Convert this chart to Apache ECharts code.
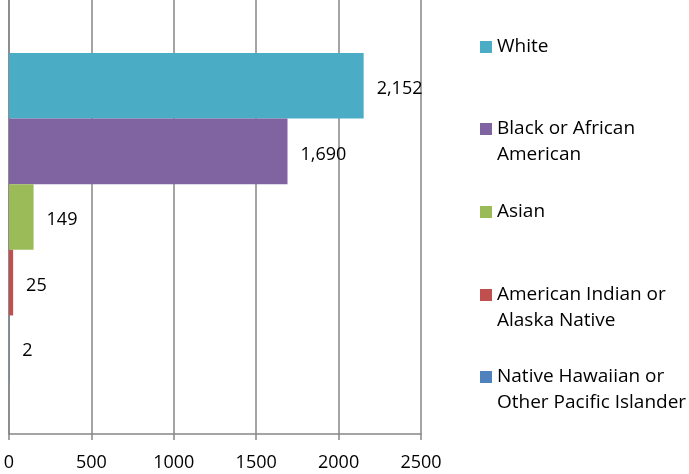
<!DOCTYPE html>
<html>
<head>
<meta charset="utf-8">
<script src="https://cdn.jsdelivr.net/npm/echarts@6/dist/echarts.min.js"></script>
<style>
  html, body { margin: 0; padding: 0; background: #fff; }
  #chart { width: 689px; height: 474px; }
</style>
</head>
<body>
<div id="chart"></div>
<script>
// 数据
const seriesNames = ['White', 'Black or African American', 'Asian', 'American Indian or Alaska Native', 'Native Hawaiian or Other Pacific Islander']
const legendLabels = ['White', 'Black or African\nAmerican', 'Asian', 'American Indian or\nAlaska Native', 'Native Hawaiian or\nOther Pacific Islander']
const seriesValues = [2152, 1690, 149, 25, 2]
const seriesColors = ['#4BACC6', '#8064A2', '#9BBB59', '#C0504D', '#4F81BD']
const xTicks = [0, 500, 1000, 1500, 2000, 2500]

const font = 'Open Sans'
const legendCenters = [47, 129, 212, 295, 377]

const myChart = echarts.init(document.getElementById('chart'))

// 每个图例单独放置，两行文字时在上面加一个空行让第一行对齐图标
const legends = seriesNames.map((name, i) => {
    const twoLines = legendLabels[i].indexOf('\n') >= 0
    return {
        data: [name],
        orient: 'vertical',
        left: 480,
        top: twoLines ? legendCenters[i] - 39 : legendCenters[i] - 13,
        padding: 0,
        itemWidth: 12,
        itemHeight: 12,
        itemGap: 5,
        icon: 'rect',
        formatter: () => twoLines ? '\u00a0\n' + legendLabels[i] : legendLabels[i],
        textStyle: {
            fontFamily: font,
            fontSize: 19,
            lineHeight: 26,
            color: '#000'
        }
    }
})

const option = {
    animation: false,
    legend: legends,
    grid: { left: 9, right: 268, top: 0, bottom: 40 },
    xAxis: {
        type: 'value',
        min: xTicks[0],
        max: xTicks[xTicks.length - 1],
        interval: 500,
        axisLine: { show: true, lineStyle: { color: '#868686', width: 1.5 } },
        axisTick: { show: true, length: 6, lineStyle: { color: '#868686', width: 1.5 } },
        splitLine: { show: true, lineStyle: { color: '#868686', width: 1.5 } },
        axisLabel: { fontFamily: font, fontSize: 18, color: '#000', margin: 20, formatter: v => String(v) }
    },
    yAxis: {
        type: 'category',
        data: [''],
        axisLine: { show: true, lineStyle: { color: '#868686', width: 1.5 } },
        axisTick: { show: false },
        axisLabel: { show: false }
    },
    series: seriesNames.map((name, i) => ({
        name: name,
        type: 'bar',
        data: [seriesValues[i]],
        barGap: 0,
        barCategoryGap: '24.4%',
        itemStyle: { color: seriesColors[i] },
        label: {
            show: true,
            position: 'right',
            distance: 13,
            fontFamily: font,
            fontSize: 18,
            color: '#000',
            offset: [0, 3],
            formatter: p => p.value.toLocaleString('en-US')
        }
    }))
}

myChart.setOption(option)
</script>
</body>
</html>
